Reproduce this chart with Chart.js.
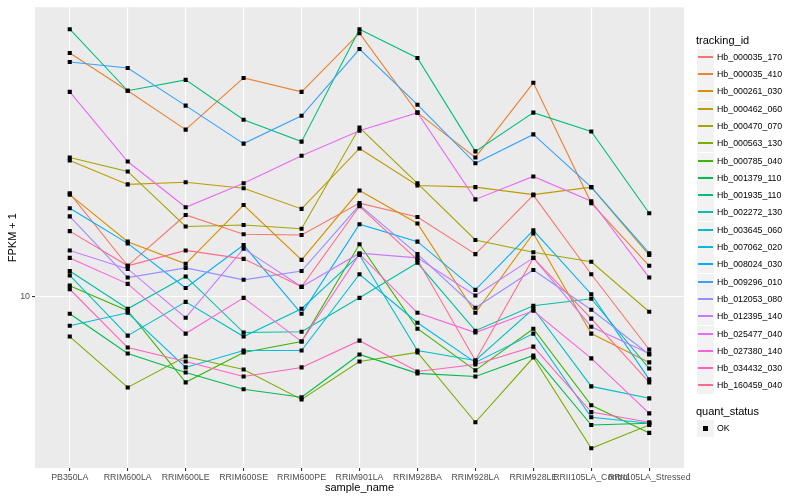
<!DOCTYPE html>
<html>
<head>
<meta charset="utf-8">
<script src="https://cdn.jsdelivr.net/npm/chart.js"></script>
<style>
  body { margin: 0; background: #fff; }
  #wrap { position: relative; width: 800px; height: 500px; font-family: "Liberation Sans", Arial, sans-serif; }
  #legend { position: absolute; left: 0; top: 0; }
  .ttl { position: absolute; font-size: 11px; color: #000; line-height: 13px; white-space: nowrap; }
  .key { position: absolute; width: 17px; height: 17px; background: #F2F2F2; }
  .key span { position: absolute; left: 1px; right: 1px; top: 7px; height: 2px; }
  .lab { position: absolute; font-size: 8.8px; color: #000; line-height: 11px; white-space: nowrap; }
</style>
</head>
<body>
<div id="wrap">
  <canvas id="c" width="800" height="500"></canvas>
  <div id="legend"></div>
</div>
<script>
// samples on the x axis
const sampleNames = ['PB350LA', 'RRIM600LA', 'RRIM600LE', 'RRIM600SE', 'RRIM600PE', 'RRIM901LA',
  'RRIM928BA', 'RRIM928LA', 'RRIM928LE', 'RRII105LA_Control', 'RRII105LA_Stressed'];

// FPKM + 1, one array per tracking_id
const hb_000035_170 = [22.2, 12.7, 18.8, 16.2, 16.1, 20.6, 18.5, 13.9, 21.9, 11.9, 6.66];
const hb_000035_410 = [65.6, 49.0, 36.3, 54.1, 48.6, 76.4, 41.4, 29.3, 52.1, 20.6, 12.7];
const hb_000261_030 = [22.0, 15.3, 12.9, 20.3, 13.3, 22.7, 17.6, 8.84, 16.3, 7.53, 6.03];
const hb_000462_060 = [28.6, 23.8, 24.2, 23.1, 19.7, 31.4, 23.6, 23.3, 22.0, 23.3, 13.8];
const hb_000470_070 = [29.3, 26.3, 17.2, 17.4, 16.9, 36.9, 24.0, 15.5, 14.1, 13.1, 8.91];
const hb_000563_130 = [7.36, 4.97, 6.31, 5.71, 4.53, 6.07, 6.51, 3.80, 6.26, 3.11, 3.72];
const hb_000785_040 = [10.9, 8.98, 5.17, 6.51, 7.08, 15.0, 7.82, 5.67, 7.82, 4.33, 3.50];
const hb_001379_110 = [8.77, 6.46, 5.58, 4.90, 4.61, 6.41, 5.54, 5.41, 6.36, 3.72, 3.77];
const hb_001935_110 = [78.8, 49.0, 53.3, 39.2, 33.1, 78.8, 63.1, 30.7, 41.4, 35.8, 19.05];
const hb_002272_130 = [12.2, 9.12, 11.7, 7.59, 7.64, 9.92, 13.0, 7.70, 9.33, 9.85, 5.75];
const hb_003645_060 = [11.8, 7.41, 9.62, 7.36, 9.12, 13.8, 6.61, 6.12, 9.12, 5.01, 4.57];
const hb_007062_020 = [8.00, 8.84, 5.80, 6.61, 6.61, 11.9, 8.19, 6.03, 7.53, 3.95, 3.77];
const hb_008024_030 = [19.8, 15.1, 10.7, 14.9, 8.77, 17.5, 15.3, 10.55, 16.7, 10.2, 5.29];
const hb_009296_010 = [61.2, 58.4, 43.7, 32.6, 40.4, 67.6, 44.0, 28.0, 35.0, 23.3, 14.0];
const hb_012053_080 = [18.6, 11.6, 12.5, 11.4, 12.2, 20.3, 13.9, 9.19, 12.3, 9.05, 6.41];
const hb_012395_140 = [14.3, 12.4, 8.51, 14.5, 10.8, 14.0, 13.5, 10.1, 13.5, 7.94, 6.46];
const hb_025477_040 = [48.6, 28.4, 19.95, 24.0, 29.7, 36.0, 41.4, 21.2, 25.3, 20.9, 11.6];
const hb_027380_140 = [13.5, 11.05, 7.53, 9.92, 7.08, 13.9, 8.84, 7.59, 8.98, 6.22, 4.07];
const hb_034432_030 = [10.6, 6.76, 6.07, 5.41, 5.80, 7.13, 5.62, 5.93, 6.81, 4.11, 3.80];
const hb_160459_040 = [16.6, 12.7, 14.3, 13.4, 10.8, 20.1, 13.3, 6.12, 13.5, 8.45, 5.17];

const trackingIds = ['Hb_000035_170', 'Hb_000035_410', 'Hb_000261_030', 'Hb_000462_060', 'Hb_000470_070',
  'Hb_000563_130', 'Hb_000785_040', 'Hb_001379_110', 'Hb_001935_110', 'Hb_002272_130', 'Hb_003645_060',
  'Hb_007062_020', 'Hb_008024_030', 'Hb_009296_010', 'Hb_012053_080', 'Hb_012395_140', 'Hb_025477_040',
  'Hb_027380_140', 'Hb_034432_030', 'Hb_160459_040'];
const seriesValues = [hb_000035_170, hb_000035_410, hb_000261_030, hb_000462_060, hb_000470_070,
  hb_000563_130, hb_000785_040, hb_001379_110, hb_001935_110, hb_002272_130, hb_003645_060,
  hb_007062_020, hb_008024_030, hb_009296_010, hb_012053_080, hb_012395_140, hb_025477_040,
  hb_027380_140, hb_034432_030, hb_160459_040];
// ggplot default hue palette for 20 levels
const colors = ['#F8766D', '#EA8331', '#D89000', '#C09B00', '#A3A500', '#7CAE00', '#39B600', '#00BB4E',
  '#00BF7D', '#00C1A3', '#00BFC4', '#00BAE0', '#00B0F6', '#35A2FF', '#9590FF', '#C77CFF', '#E76BF3',
  '#FA62DB', '#FF62BC', '#FF6C90'];
const yTicks = [10];

const FONT = '"Liberation Sans", Arial, sans-serif';

const datasets = seriesValues.map((vals, i) => ({
  label: trackingIds[i],
  data: vals.map((v, j) => ({ x: j, y: v })),
  borderColor: colors[i],
  borderWidth: 1.1,
  pointRadius: 0,
  tension: 0,
  fill: false,
  order: seriesValues.length - i
}));
// quant_status = OK points, drawn over every line
datasets.push({
  label: 'OK',
  data: seriesValues.flatMap(vals => vals.map((v, j) => ({ x: j, y: v }))),
  showLine: false,
  pointStyle: 'rect',
  pointRadius: 2.9,
  pointBackgroundColor: '#000',
  pointBorderWidth: 0,
  order: 0
});

// grey ggplot panel
const panelBg = {
  id: 'panelBg',
  beforeDraw(chart) {
    const { ctx, chartArea: a } = chart;
    ctx.save();
    ctx.fillStyle = '#fff';
    ctx.fillRect(0, 0, chart.width, chart.height);
    ctx.fillStyle = '#EBEBEB';
    ctx.fillRect(a.left, a.top, a.right - a.left, a.bottom - a.top);
    ctx.restore();
  }
};

new Chart(document.getElementById('c').getContext('2d'), {
  type: 'line',
  data: { datasets },
  options: {
    responsive: false,
    animation: false,
    devicePixelRatio: 1,
    layout: { padding: { top: 5, right: 116, left: 0, bottom: 0 } },
    plugins: { legend: { display: false }, tooltip: { enabled: false } },
    scales: {
      x: {
        type: 'linear',
        min: -0.6,
        max: 10.6,
        afterBuildTicks: s => { s.ticks = sampleNames.map((_, i) => ({ value: i })); },
        afterFit: s => { s.height = 32; },
        ticks: {
          callback: v => sampleNames[v],
          autoSkip: false, maxRotation: 0, minRotation: 0,
          color: '#4D4D4D', font: { size: 8.8, family: FONT }, padding: 1
        },
        grid: { color: '#fff', lineWidth: 1.1, tickColor: '#333', tickLength: 3 },
        border: { display: false },
        title: { display: true, text: 'sample_name', color: '#000', font: { size: 11, family: FONT }, padding: { top: 0, bottom: 5 } }
      },
      y: {
        type: 'logarithmic',
        min: 2.67,
        max: 93.3,
        afterBuildTicks: s => { s.ticks = yTicks.map(v => ({ value: v })); },
        afterFit: s => { s.width = 35; },
        ticks: { callback: v => String(v), color: '#4D4D4D', font: { size: 8.8, family: FONT }, padding: 2 },
        grid: { color: '#fff', lineWidth: 1.1, tickColor: '#333', tickLength: 3 },
        border: { display: false },
        title: { display: true, text: 'FPKM + 1', color: '#000', font: { size: 11, family: FONT }, padding: { top: 6, bottom: 0 } }
      }
    }
  },
  plugins: [panelBg]
});

// legend on the right, ggplot style
const legend = document.getElementById('legend');
function addEl(cls, left, top, html) {
  const d = document.createElement('div');
  d.className = cls;
  d.style.left = left + 'px';
  d.style.top = top + 'px';
  d.innerHTML = html;
  legend.appendChild(d);
  return d;
}
addEl('ttl', 696, 34, 'tracking_id');
trackingIds.forEach((id, i) => {
  const top = Math.round(48.7 + i * 17.3);
  addEl('key', 697, top, '<span style="background:' + colors[i] + '"></span>');
  addEl('lab', 717, top + 3, id);
});
addEl('ttl', 696, 405, 'quant_status');
addEl('key', 697, 420, '<i style="position:absolute;left:6px;top:6px;width:5px;height:5px;background:#000"></i>');
addEl('lab', 717, 423, 'OK');
</script>
</body>
</html>
